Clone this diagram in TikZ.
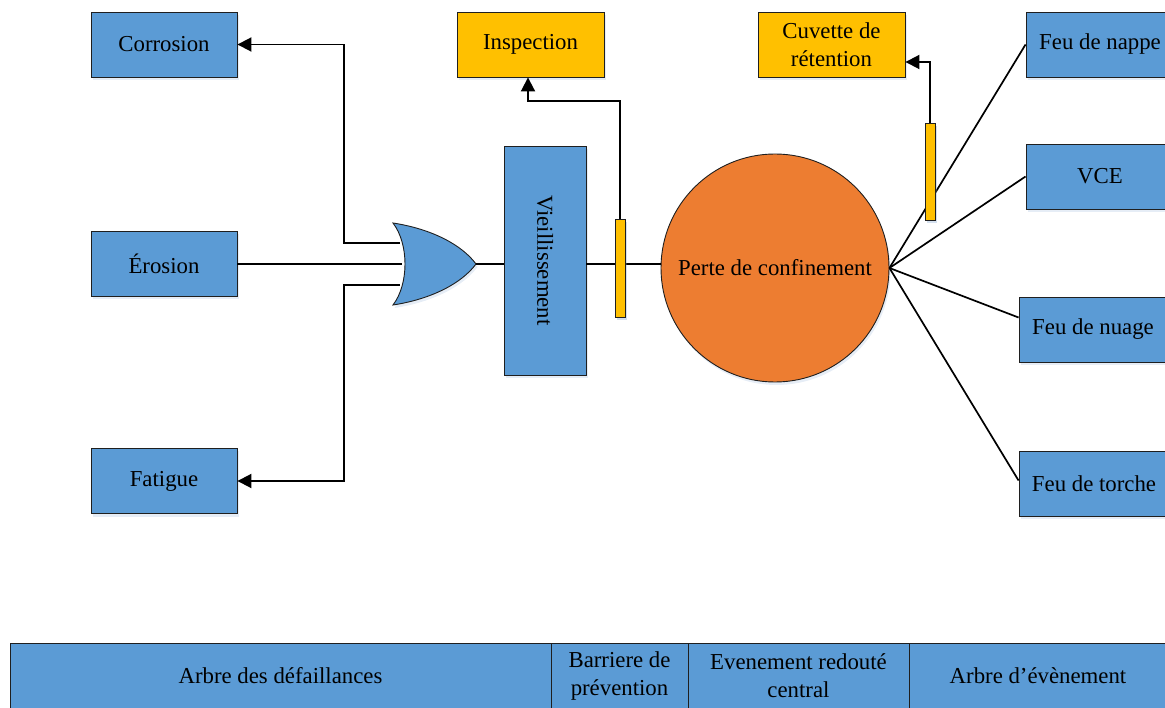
\documentclass[tikz,border=0pt]{standalone}
\usepackage{fontspec}
\setmainfont{Liberation Serif}
\usetikzlibrary{arrows.meta,shadows,calc}
\definecolor{boxblue}{HTML}{5B9BD5}
\definecolor{boxorange}{HTML}{ED7D31}
\definecolor{boxyellow}{HTML}{FFC000}
\definecolor{edge}{HTML}{1F1F1F}
\definecolor{shade}{HTML}{9DB8DA}
\begin{document}
\begin{tikzpicture}[x=1pt,y=-1pt,
  every node/.style={font=\fontsize{22.8}{28}\selectfont, inner sep=0pt, align=center},
  softshadow/.style={drop shadow={shadow xshift=1.5pt, shadow yshift=-3pt, opacity=0.25, fill=shade}},
  bluebox/.style={draw=edge, line width=0.9pt, fill=boxblue, minimum width=146pt, minimum height=65pt, softshadow},
  yellowbox/.style={draw=edge, line width=0.9pt, fill=boxyellow, minimum width=147pt, minimum height=65pt, softshadow},
  barrier/.style={draw=edge, line width=0.9pt, fill=boxyellow, minimum width=10pt, softshadow},
  cell/.style={draw=edge, line width=0.9pt, fill=boxblue, minimum height=65pt},
  wire/.style={draw=black, line width=1.9pt},
  arr/.style={wire, -{Triangle[length=14pt,width=14pt]}}
]
\clip (0,0) rectangle (1165,708);

% causes
\node[bluebox] (corr) at (164,44.5) {Corrosion};
\node[bluebox] (eros) at (164,264) {Érosion};
\node[bluebox] (fat)  at (164,481) {Fatigue};

% barriers and their measures
\node[yellowbox] (insp) at (530.5,44.5) {Inspection};
\node[yellowbox] (cuv)  at (831.5,44.5) {Cuvette de\\rétention};
\node[barrier, minimum height=98pt] (b1) at (620,268) {};
\node[barrier, minimum height=97pt] (b2) at (930,171.5) {};

% ageing block
\node[bluebox, minimum width=82pt, minimum height=229pt] (vieil) at (545,260.5)
  {\rotatebox{-90}{Vieillissement}};

% central event
\node[circle, draw=edge, line width=0.9pt, fill=boxorange, minimum size=228pt, softshadow]
  (circ) at (775,268) {Perte de confinement};

% consequences
\node[bluebox, minimum width=148pt] (nappe)  at (1100,44.5) {Feu de nappe};
\node[bluebox, minimum width=148pt] (vce)    at (1100,176.5) {VCE};
\node[bluebox, minimum width=148pt] (nuage)  at (1093,329.5) {Feu de nuage};
\node[bluebox, minimum width=150pt] (torche) at (1094,483.5) {Feu de torche};

% OR gate
\coordinate (gtop) at (393,223);
\coordinate (gbot) at (393,305);
\coordinate (gout) at (476,264);
\coordinate (in1) at (400,243);
\coordinate (in2) at (402,264);
\coordinate (in3) at (400,285);
\draw[wire] (eros.east) -- (in2 |- eros.east);
\draw[arr] (in1) -- (344,243) |- (corr.east);
\draw[arr] (in3) -- (344,285) |- (fat.east);
\filldraw[draw=edge, line width=0.9pt, fill=boxblue, softshadow]
  (gtop) .. controls (432,229) and (462,245) .. (gout)
         .. controls (462,283) and (432,299) .. (gbot)
         .. controls (409,284) and (409,244) .. (gtop) -- cycle;

% main line
\draw[wire] (gout) -- (vieil.west |- gout);
\draw[wire] (vieil.east |- circ.178) -- (circ.178);
\node[barrier, minimum height=98pt] at (b1) {};

% barrier measures
\coordinate (k1) at (528,101);
\draw[arr] (b1.north) |- (k1) -- (k1 |- insp.south);
\coordinate (k2) at (930,62);
\draw[arr] (b2.north) -- (k2) -- (k2 -| cuv.east);

% event tree branches
\draw[wire, line width=1.7pt] (circ.east) -- (nappe.west);
\draw[wire, line width=1.7pt] (circ.east) -- (vce.west);
\draw[wire, line width=1.7pt] (circ.east) -- ($(nuage.west)+(0,-12)$);
\draw[wire, line width=1.7pt] (circ.east) -- ($(torche.west)+(0,-3)$);
\node[barrier, minimum height=97pt] at (b2) {};

% legend row
\node[cell, minimum width=541pt] (c1) at (280.5,676) {Arbre des défaillances};
\node[cell, minimum width=137pt] (c2) at (619.5,676) {Barriere de\\prévention};
\node[cell, minimum width=221pt] (c3) at (798.5,676) {Evenement redouté\\central};
\node[cell, minimum width=258pt] (c4) at (1038,676) {Arbre d’évènement};
\end{tikzpicture}
\end{document}
